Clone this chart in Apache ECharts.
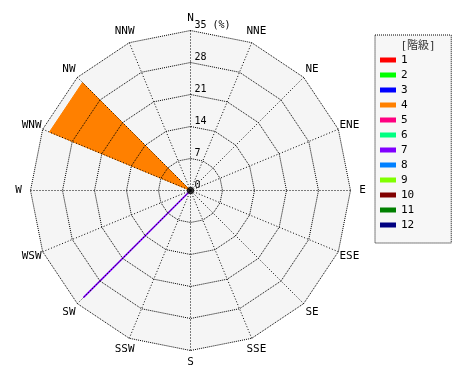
<!DOCTYPE html>
<html>
<head>
<meta charset="utf-8">
<script src="https://cdn.jsdelivr.net/npm/echarts@6/dist/echarts.min.js"></script>
<style>html,body{margin:0;padding:0;background:#fff;}#c{width:470px;height:380px;}</style>
</head>
<body>
<div id="c"></div>
<script>
// Directions in compass (clockwise) order from N
var directions = ['N','NNE','NE','ENE','E','ESE','SE','SSE','S','SSW','SW','WSW','W','WNW','NW','NNW'];
var classNames = ['1','2','3','4','5','6','7','8','9','10','11','12'];
var classColors = ['#ff0000','#00ff00','#0000ff','#ff8000','#ff0080','#00ff80','#8000ff','#0080ff','#80ff00','#800000','#008000','#000080'];
var tickValues = [0, 7, 14, 21, 28, 35];
var tickLabels = ['0', '7', '14', '21', '28', '35 (%)'];
var axisMax = 35;
// frequency (%) per class, per direction (compass order)
var class1  = [0,0,0,0,0,0,0,0,0,0,0,0,0,0,0,0];
var class2  = [0,0,0,0,0,0,0,0,0,0,0,0,0,0,0,0];
var class3  = [0,0,0,0,0,0,0,0,0,0,0,0,0,0,0,0];
var class4  = [0,0,0,0,0,0,0,0,0,0,0,0,0,33.4,33.4,0];
var class5  = [0,0,0,0,0,0,0,0,0,0,0,0,0,0,0,0];
var class6  = [0,0,0,0,0,0,0,0,0,0,0,0,0,0,0,0];
var class7  = [0,0,0,0,0,0,0,0,0,0,33,0,0,0,0,0];
var class8  = [0,0,0,0,0,0,0,0,0,0,0,0,0,0,0,0];
var class9  = [0,0,0,0,0,0,0,0,0,0,0,0,0,0,0,0];
var class10 = [0,0,0,0,0,0,0,0,0,0,0,0,0,0,0,0];
var class11 = [0,0,0,0,0,0,0,0,0,0,0,0,0,0,0,0];
var class12 = [0,0,0,0,0,0,0,0,0,0,0,0,0,0,0,0];
var classData = [class1,class2,class3,class4,class5,class6,class7,class8,class9,class10,class11,class12];

// radar goes counter-clockwise, so reorder: N, NNW, NW, ... NNE
var order = [0];
for (var i = 15; i >= 1; i--) order.push(i);
function reorder(arr){ return order.map(function(k){ return arr[k]; }); }

var CX = 190.5, CY = 190.5, R = 160;
var FONT = 'DejaVu Sans Mono, Noto Sans CJK JP, monospace';
var DOT = [1, 1];
var SPOKE_DOT = [1, 2];
var HIDDEN_LINE = {show: false, lineStyle: {opacity: 0, width: 0}};
var indicators = reorder(directions).map(function(d, idx){
  var o = {
    name: d, max: axisMax, min: 0, nameGap: 12, nameMoveOverlap: false,
    nameTextStyle: {align: 'center', verticalAlign: 'middle'}
  };
  if (idx === 0) {
    o.axisLabel = {
      show: true, fontSize: 10, fontFamily: FONT, color: '#000',
      margin: -4, align: 'left', verticalAlign: 'bottom',
      formatter: function(v){ var k = tickValues.indexOf(v); return k >= 0 ? tickLabels[k] : ''; }
    };
  }
  return o;
});

var series = classNames.map(function(n, i){
  var nonZero = classData[i].filter(function(x){ return x > 0; }).length;
  var isArea = nonZero > 1;
  return {
    type: 'radar', name: n, radarIndex: 1, z: 2,
    symbol: 'none',
    itemStyle: {color: classColors[i]},
    lineStyle: {color: classColors[i], width: isArea ? 1 : 1.6},
    areaStyle: isArea ? {color: classColors[i], opacity: 1} : undefined,
    data: [{value: reorder(classData[i]), name: n}]
  };
});
series.push({
  type: 'scatter', name: 'center', coordinateSystem: 'polar', z: 10,
  symbolSize: 7, itemStyle: {color: '#000'}, data: [[0, 0]], silent: true
});

var chart = echarts.init(document.getElementById('c'), null, {renderer: 'canvas'});
chart.setOption({
  backgroundColor: '#fff',
  animation: false,
  textStyle: {fontFamily: FONT},
  title: {
    text: '[階級]', left: 413, top: 36, textAlign: 'center', z: 10,
    textStyle: {fontSize: 11, fontWeight: 'normal', color: '#333', fontFamily: FONT}
  },
  legend: {
    orient: 'vertical', left: 375, top: 35,
    data: classNames, icon: 'rect', itemWidth: 16, itemHeight: 5, itemGap: 3,
    padding: [19, 37, 12, 5],
    backgroundColor: '#f7f7f7', borderColor: '#000', borderWidth: 1, borderType: DOT,
    textStyle: {fontSize: 11, color: '#000', fontFamily: FONT, lineHeight: 12},
    selectedMode: false
  },
  polar: {center: [CX, CY], radius: R},
  angleAxis: {
    type: 'value', min: 0, max: 360, interval: 22.5, startAngle: 90, z: 5,
    axisLine: {show: false}, axisTick: {show: false}, axisLabel: {show: false},
    splitLine: {show: true, lineStyle: {color: '#000', type: SPOKE_DOT, width: 1}}
  },
  radiusAxis: {type: 'value', min: 0, max: axisMax, show: false},
  radar: [
    {
      center: [CX, CY], radius: R, shape: 'polygon', splitNumber: 1, z: 0,
      indicator: reorder(directions).map(function(d){ return {name: '', max: axisMax, min: 0}; }),
      axisName: {show: false},
      axisLine: HIDDEN_LINE, splitLine: {show: false},
      splitArea: {show: true, areaStyle: {color: ['#f5f5f5']}}
    },
    {
      center: [CX, CY], radius: R, shape: 'polygon', splitNumber: 5, z: 5,
      indicator: indicators,
      axisName: {color: '#000', fontSize: 11, fontFamily: FONT},
      axisLine: HIDDEN_LINE,
      splitLine: {lineStyle: {color: '#000', type: DOT, width: 1}},
      splitArea: {show: false},
      axisLabel: {show: false}
    }
  ],
  series: series
});
</script>
</body>
</html>
